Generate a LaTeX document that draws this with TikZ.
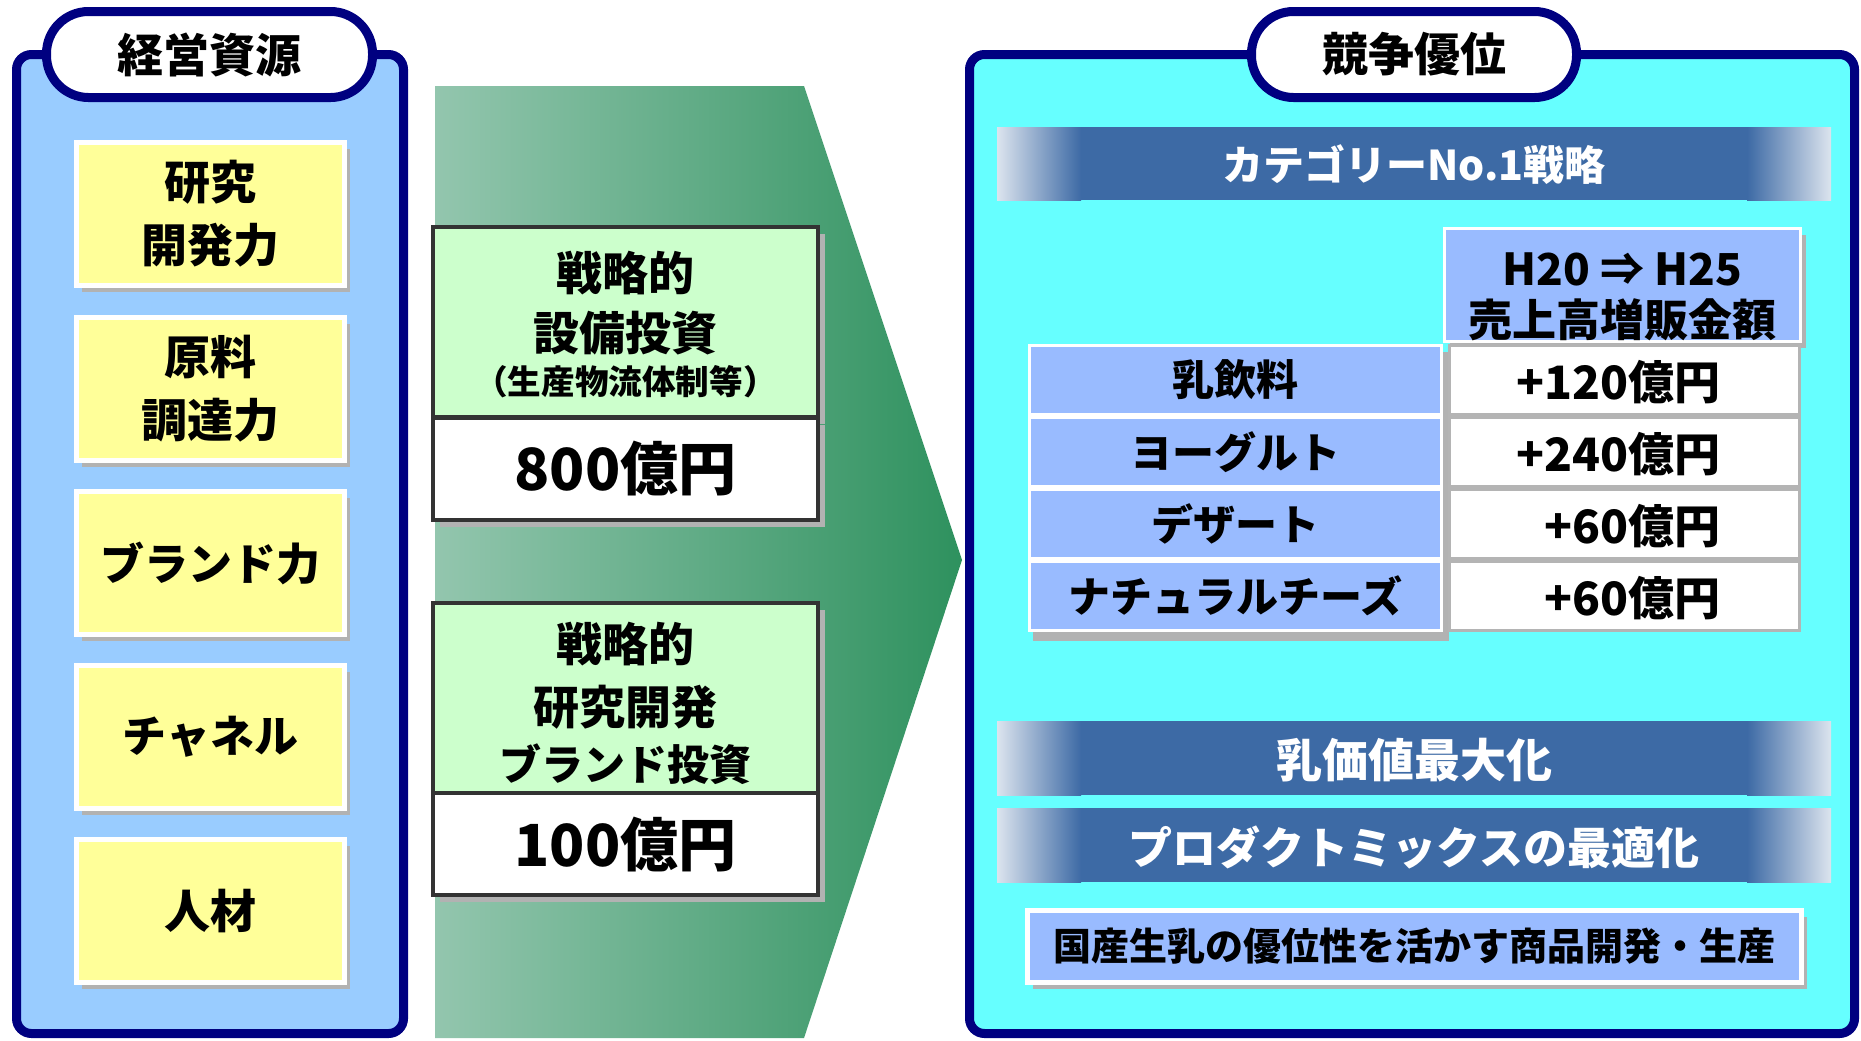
\documentclass[tikz,border=0pt]{standalone}
\usepackage{fontspec}
\setmainfont{Noto Sans CJK JP}
\usetikzlibrary{shadows}
\definecolor{navy}{HTML}{000080}
\definecolor{panelL}{HTML}{99CCFF}
\definecolor{panelR}{HTML}{66FFFF}
\definecolor{ylw}{HTML}{FFFF99}
\definecolor{shd}{HTML}{B2B2B2}
\definecolor{bnr}{HTML}{3D6AA5}
\definecolor{bnrL}{HTML}{DCE4EE}
\definecolor{cellb}{HTML}{99BBFF}
\definecolor{gtop}{HTML}{CCFFCC}
\definecolor{dk}{HTML}{333333}
\definecolor{cellg}{HTML}{B4B4B4}
\definecolor{trL}{HTML}{93C6AE}
\definecolor{trM}{HTML}{80BD9E}
\definecolor{trR}{HTML}{2E915E}
\newcommand\myfs[2]{\fontsize{#1}{#2}\selectfont\bfseries}
\begin{document}
\begin{tikzpicture}[x=0.5pt,y=-0.5pt,
  panel/.style={draw=navy, line width=4.5pt, rounded corners=7.5pt},
  pill/.style={draw=navy, fill=white, line width=4.5pt, rounded corners=21pt, inner sep=0pt,
    minimum height=43pt, font=\myfs{23pt}{28pt}},
  ybox/.style={draw=white, line width=2.5pt, fill=ylw, minimum width=134pt, minimum height=71.5pt,
    inner sep=0pt, align=center, font=\myfs{23pt}{31.5pt},
    drop shadow={shadow xshift=2.5pt, shadow yshift=-3pt, fill=shd, opacity=1}},
  gtopbox/.style={draw=dk, line width=2pt, fill=gtop, minimum width=192.5pt, minimum height=95pt, inner sep=0pt,
    drop shadow={shadow xshift=3.5pt, shadow yshift=-3.5pt, fill=shd, opacity=1}},
  gvalbox/.style={draw=dk, line width=2pt, fill=white, minimum width=192.5pt, minimum height=51pt, inner sep=0pt,
    font=\myfs{29pt}{32pt},
    drop shadow={shadow xshift=3.5pt, shadow yshift=-3.5pt, fill=shd, opacity=1}},
  gtext/.style={inner sep=0pt, font=\myfs{23pt}{26pt}},
  btext/.style={inner sep=0pt, text=white},
  lcell/.style={fill=cellb, draw=white, line width=1.5pt, minimum width=206pt, minimum height=34.5pt,
    inner sep=0pt, font=\myfs{21pt}{24pt}},
  rcell/.style={fill=white, draw=cellg, line width=1.5pt, minimum width=175pt, minimum height=34.5pt, inner sep=0pt},
  rtext/.style={inner sep=0pt, anchor=east, font=\myfs{23pt}{26pt}},
]
\useasboundingbox (0,0) rectangle (1861,1040);

% ---------- left panel ----------
\draw[panel, fill=panelL] (16.5,54.5) rectangle (403.5,1033.5);
\node[pill, minimum width=163pt] (t1) at (209.5,54.5) {経営資源};

\node[ybox] (r1) at (210.5,214) {研究\\開発力};
\node[ybox] (r2) at (210.5,389) {原料\\調達力};
\node[ybox, font=\myfs{22pt}{28pt}] (r3) at (210.5,563) {ブランド力};
\node[ybox, font=\myfs{22pt}{28pt}] (r4) at (210.5,737) {チャネル};
\node[ybox] (r5) at (210.5,911) {人材};

% ---------- middle arrow ----------
\shade[left color=trL, middle color=trM, right color=trR]
  (435,86) -- (804,86) -- (962,560) -- (804,1038) -- (435,1038) -- cycle;

\node[gtopbox] (s1) at (625.5,322) {};
\node[gvalbox] (v1) at (625.5,468.5) {800億円};
\node[gtext] (s1a) at (625.5,273) {戦略的};
\node[gtext] (s1b) at (625.5,333) {設備投資};
\node[gtext, font=\myfs{16.8pt}{19pt}] (s1c) at (625.5,382) {（生産物流体制等）};

\node[gtopbox] (s2) at (625.5,698) {};
\node[gvalbox] (v2) at (625.5,844) {100億円};
\node[gtext] (s2a) at (625.5,644) {戦略的};
\node[gtext] (s2b) at (625.5,707) {研究開発};
\node[gtext, font=\myfs{21pt}{24pt}] (s2c) at (625.5,764) {ブランド投資};

% ---------- right panel ----------
\draw[panel, fill=panelR] (969.5,54.5) rectangle (1854.5,1033.5);
\node[pill, minimum width=162.5pt] (t2) at (1414,54.5) {競争優位};

% banner 1
\fill[bnr] (997,127) rectangle (1831,200);
\shade[left color=bnrL, right color=bnr] (997,127) rectangle (1081,200);
\shade[left color=bnr, right color=bnrL] (1747,127) rectangle (1831,200);
\node[btext, font=\myfs{20.5pt}{24pt}] (b1) at (1414,165) {カテゴリーNo.1戦略};

% header cell
\node[fill=cellb, draw=white, line width=1.5pt, minimum width=178pt, minimum height=56.5pt, inner sep=0pt,
  drop shadow={shadow xshift=2.5pt, shadow yshift=-3pt, fill=shd, opacity=1}] (hd) at (1622.5,285) {};
\node[inner sep=0pt, font=\myfs{22pt}{25.5pt}, align=center] (hdt) at (1622.5,297) {H20 ⇒ H25\\売上高増販金額};

% table
\fill[shd] (1033,352) rectangle (1449,641);
\node[lcell] (c1) at (1235.5,380) {乳飲料};
\node[lcell] (c2) at (1235.5,452) {ヨーグルト};
\node[lcell] (c3) at (1235.5,524) {デザート};
\node[lcell] (c4) at (1235.5,596) {ナチュラルチーズ};
\node[rcell] (d1) at (1624,380) {};
\node[rcell] (d2) at (1624,452) {};
\node[rcell] (d3) at (1624,524) {};
\node[rcell] (d4) at (1624,596) {};
\node[rtext] (e1) at (1721,382) {+120億円};
\node[rtext] (e2) at (1721,454) {+240億円};
\node[rtext] (e3) at (1721,526) {+60億円};
\node[rtext] (e4) at (1721,598) {+60億円};

% banner 2
\fill[bnr] (997,721) rectangle (1831,795);
\shade[left color=bnrL, right color=bnr] (997,721) rectangle (1081,795);
\shade[left color=bnr, right color=bnrL] (1747,721) rectangle (1831,795);
\node[btext, font=\myfs{23pt}{26pt}] (b2) at (1414,760) {乳価値最大化};

% banner 3
\fill[bnr] (997,808) rectangle (1831,882);
\shade[left color=bnrL, right color=bnr] (997,808) rectangle (1081,882);
\shade[left color=bnr, right color=bnrL] (1747,808) rectangle (1831,882);
\node[btext, font=\myfs{22pt}{26pt}] (b3) at (1414,847) {プロダクトミックスの最適化};

% bottom box
\node[fill=cellb, draw=white, line width=2.5pt, minimum width=387pt, minimum height=36pt, inner sep=0pt,
  font=\myfs{19pt}{22pt},
  drop shadow={shadow xshift=2.5pt, shadow yshift=-3pt, fill=shd, opacity=1}] (bt) at (1414.5,946.5)
  {国産生乳の優位性を活かす商品開発・生産};
\end{tikzpicture}
\end{document}
